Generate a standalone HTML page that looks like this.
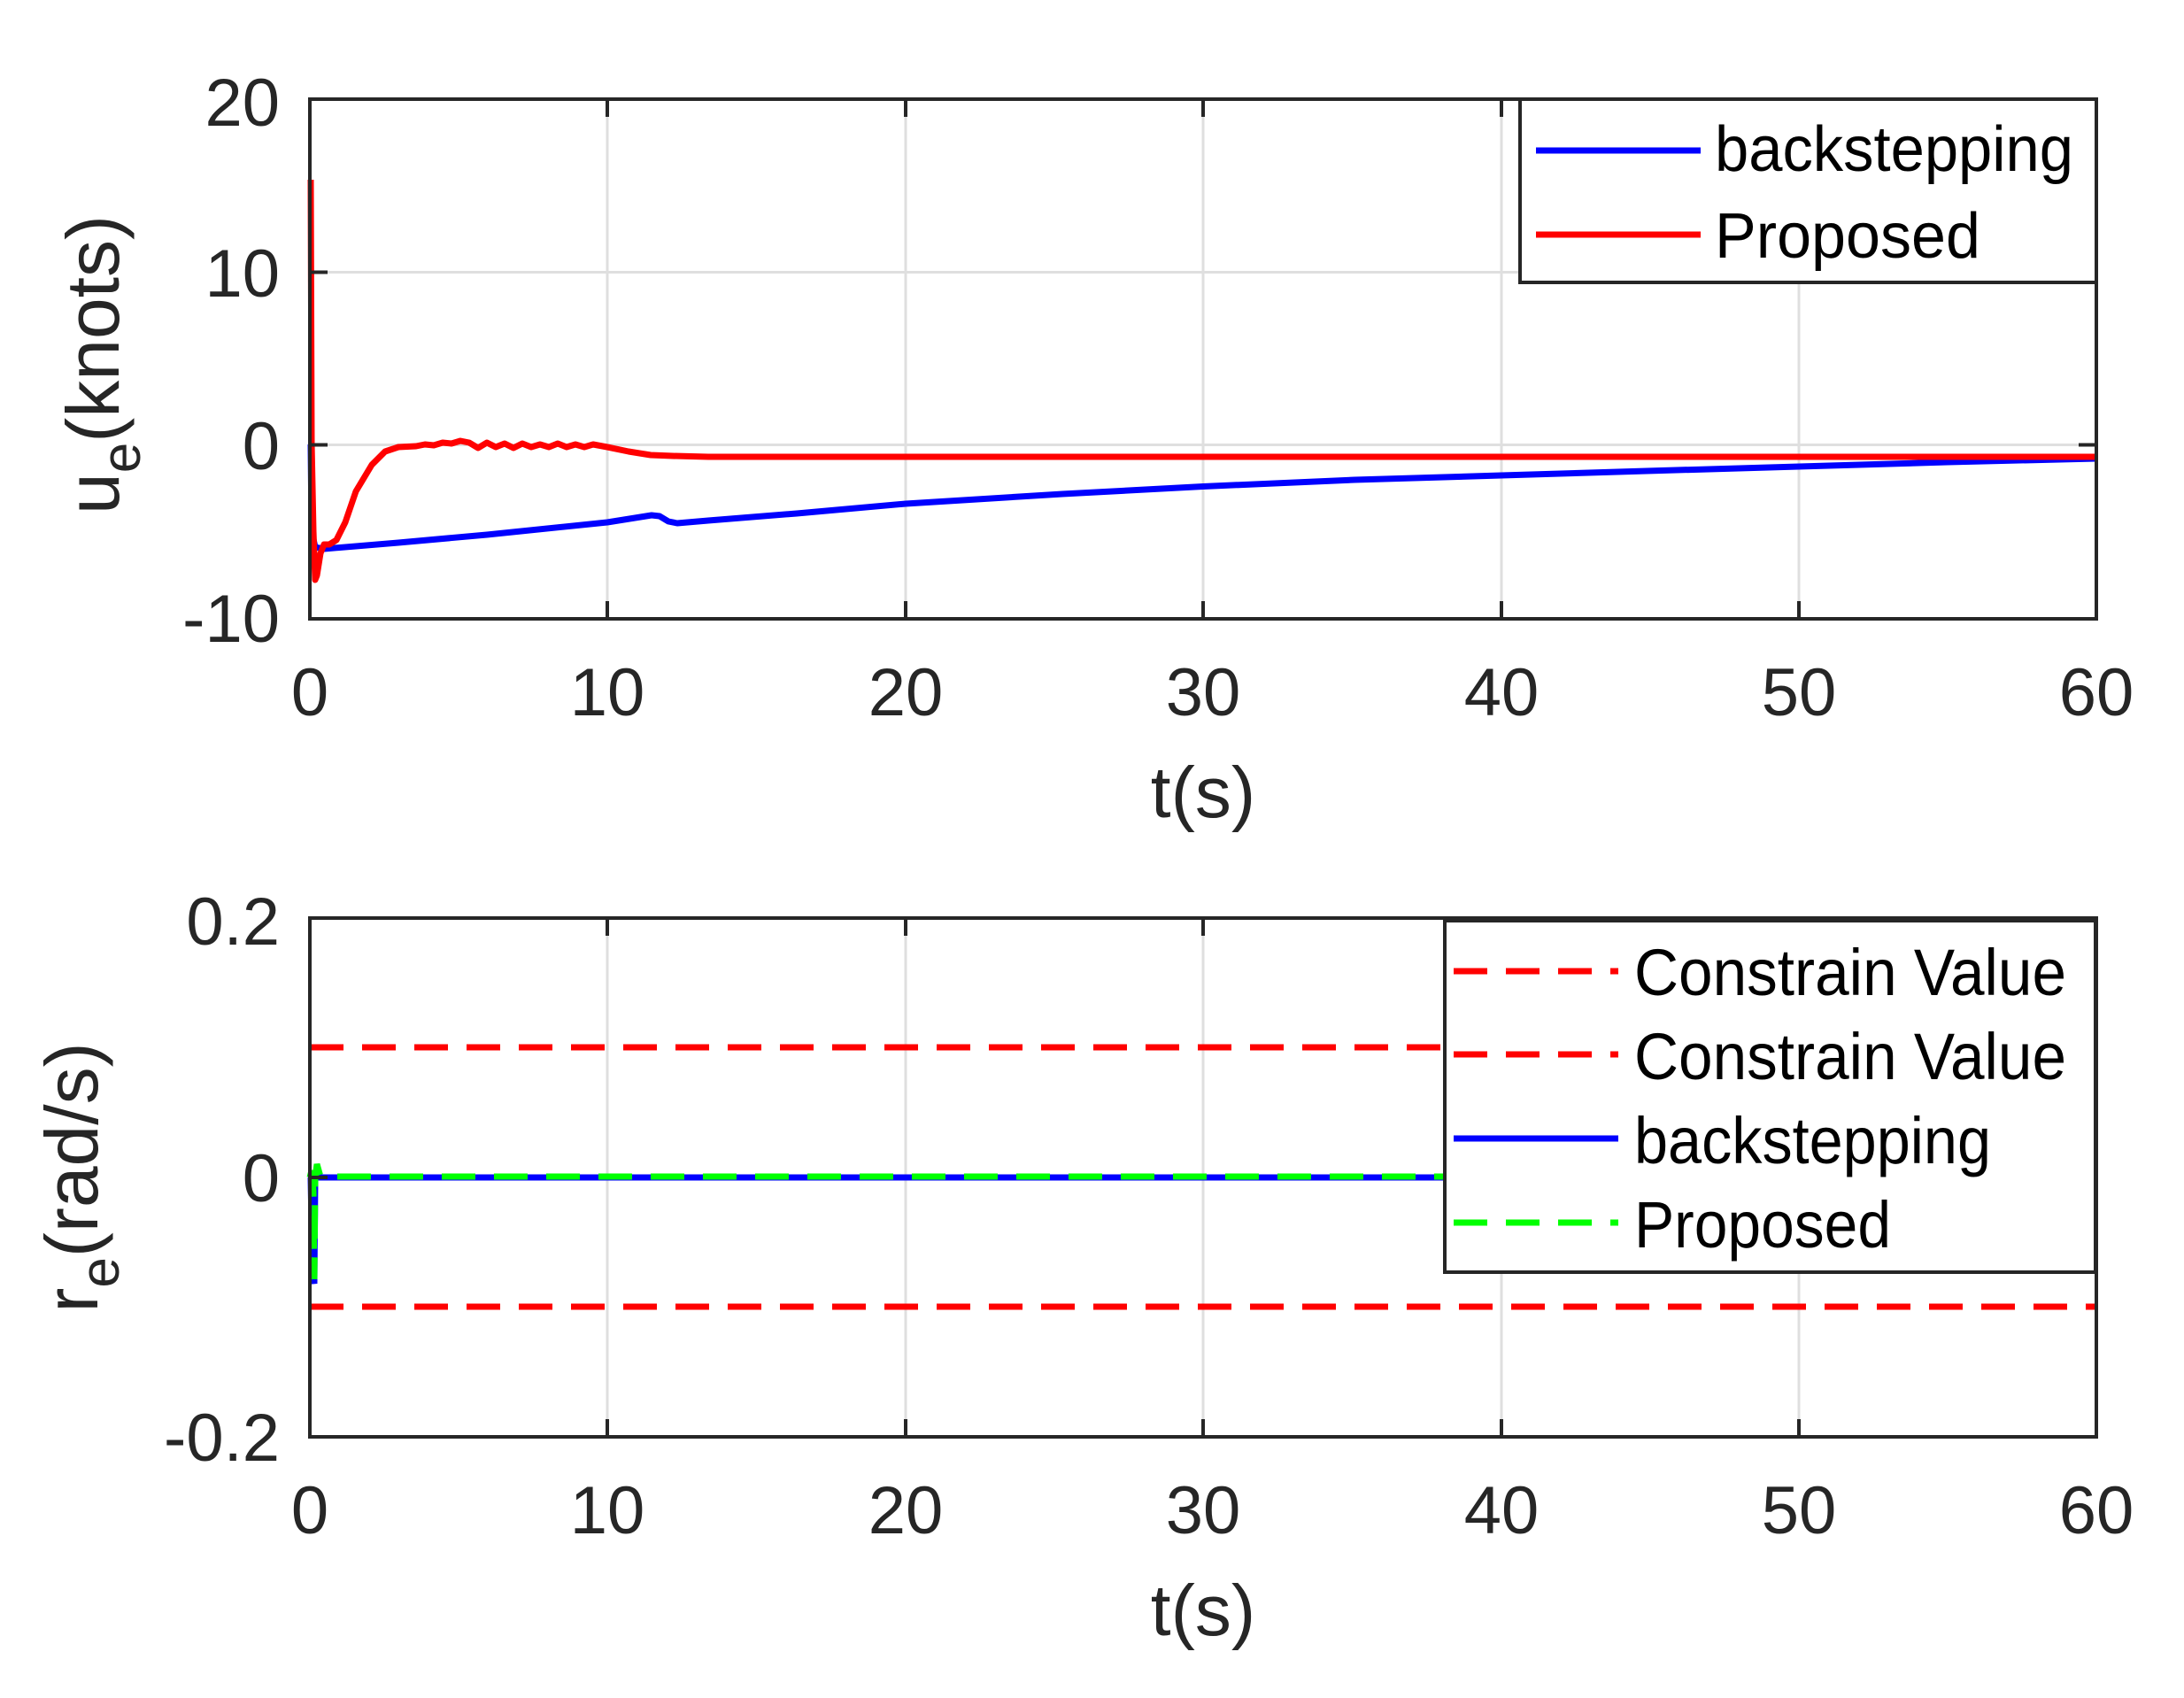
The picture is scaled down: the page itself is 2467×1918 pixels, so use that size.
<!DOCTYPE html>
<html><head><meta charset="utf-8"><style>html,body{margin:0;padding:0;background:#fff}svg{display:block}</style></head>
<body>
<svg width="2467" height="1918" viewBox="0 0 2467 1918" xmlns="http://www.w3.org/2000/svg" font-family="Liberation Sans, Arial, sans-serif">
<rect width="2467" height="1918" fill="#fff"/>
<!-- TOP AXES -->
<g stroke="#dfdfdf" stroke-width="3">
<line x1="686" y1="112" x2="686" y2="699"/><line x1="1023" y1="112" x2="1023" y2="699"/><line x1="1359" y1="112" x2="1359" y2="699"/><line x1="1696" y1="112" x2="1696" y2="699"/><line x1="2032" y1="112" x2="2032" y2="699"/>
<line x1="350" y1="307.5" x2="2368" y2="307.5"/><line x1="350" y1="502.5" x2="2368" y2="502.5"/>
</g>
<g fill="none" stroke-width="7" stroke-linejoin="round">
<polyline stroke="#0000ff" points="351,502 352,600 356,618 366,620 450,613 550,604 686,590 736,582 745,583 755,589 765,591 800,588 900,580 1023,569 1200,558 1359,549.5 1530,542 1696,537 1860,532 2032,527 2200,522 2368,518"/>
<polyline stroke="#ff0000" points="351,203 352,500 354,600 356,655 358,650 362,625 366,615 372,615 380,610 390,590 402,555 420,525 435,510 450,505 470,504 480,502 490,503 500,500 510,501 520,498 530,500 540,506 550,500 560,505 570,501 580,506 590,501 600,505 610,502 620,505 630,501 640,505 650,502 660,505 670,502 686,505 710,510 735,514 760,515 800,516 1023,516 1359,516 1696,516 2032,516 2368,516"/>
</g>
<rect x="350" y="112" width="2018" height="587" fill="none" stroke="#262626" stroke-width="4"/>
<g stroke="#262626" stroke-width="4">
<line x1="686" y1="699" x2="686" y2="679"/><line x1="1023" y1="699" x2="1023" y2="679"/><line x1="1359" y1="699" x2="1359" y2="679"/><line x1="1696" y1="699" x2="1696" y2="679"/><line x1="2032" y1="699" x2="2032" y2="679"/>
<line x1="686" y1="112" x2="686" y2="132"/><line x1="1023" y1="112" x2="1023" y2="132"/><line x1="1359" y1="112" x2="1359" y2="132"/><line x1="1696" y1="112" x2="1696" y2="132"/><line x1="2032" y1="112" x2="2032" y2="132"/>
<line x1="350" y1="307.5" x2="370" y2="307.5"/><line x1="350" y1="502.5" x2="370" y2="502.5"/>
<line x1="2368" y1="307.5" x2="2348" y2="307.5"/><line x1="2368" y1="502.5" x2="2348" y2="502.5"/>
</g>
<g fill="#262626" font-size="76" text-anchor="end">
<text x="316" y="142">20</text><text x="316" y="335">10</text><text x="316" y="530">0</text><text x="316" y="725">-10</text>
</g>
<g fill="#262626" font-size="76" text-anchor="middle">
<text x="350" y="808">0</text><text x="686" y="808">10</text><text x="1023" y="808">20</text><text x="1359" y="808">30</text><text x="1696" y="808">40</text><text x="2032" y="808">50</text><text x="2368" y="808">60</text>
<text x="1359" y="923" font-size="82">t(s)</text>
</g>
<g transform="translate(134,412) rotate(-90)" fill="#262626" font-size="84" text-anchor="middle">
<text x="0" y="0">u<tspan font-size="62" dy="24">e</tspan><tspan dy="-24">(knots)</tspan></text>
</g>
<!-- top legend -->
<rect x="1717" y="112" width="651" height="207" fill="#fff" stroke="#262626" stroke-width="4"/>
<line x1="1735" y1="170" x2="1921" y2="170" stroke="#0000ff" stroke-width="7"/>
<line x1="1735" y1="265" x2="1921" y2="265" stroke="#ff0000" stroke-width="7"/>
<g fill="#000" font-size="72">
<text x="1937" y="193" textLength="405" lengthAdjust="spacingAndGlyphs">backstepping</text>
<text x="1937" y="291" textLength="300" lengthAdjust="spacingAndGlyphs">Proposed</text>
</g>
<!-- BOTTOM AXES -->
<g stroke="#dfdfdf" stroke-width="3">
<line x1="686" y1="1037" x2="686" y2="1623"/><line x1="1023" y1="1037" x2="1023" y2="1623"/><line x1="1359" y1="1037" x2="1359" y2="1623"/><line x1="1696" y1="1037" x2="1696" y2="1623"/><line x1="2032" y1="1037" x2="2032" y2="1623"/>
<line x1="350" y1="1330" x2="2368" y2="1330"/>
</g>
<g fill="none" stroke-width="7">
<line x1="350" y1="1183" x2="2368" y2="1183" stroke="#ff0000" stroke-dasharray="38,21"/>
<line x1="350" y1="1476" x2="2368" y2="1476" stroke="#ff0000" stroke-dasharray="38,21"/>
<polyline stroke="#0000ff" points="351,1330 353,1440 355,1450 356,1330 2368,1330"/>
<polyline stroke="#00ff00" stroke-dasharray="38,21" points="350,1330 352,1322 354,1345 355,1445 356,1330 358,1315 362,1329 2368,1329"/>
</g>
<rect x="350" y="1037" width="2018" height="586" fill="none" stroke="#262626" stroke-width="4"/>
<g stroke="#262626" stroke-width="4">
<line x1="686" y1="1623" x2="686" y2="1603"/><line x1="1023" y1="1623" x2="1023" y2="1603"/><line x1="1359" y1="1623" x2="1359" y2="1603"/><line x1="1696" y1="1623" x2="1696" y2="1603"/><line x1="2032" y1="1623" x2="2032" y2="1603"/>
<line x1="686" y1="1037" x2="686" y2="1057"/><line x1="1023" y1="1037" x2="1023" y2="1057"/><line x1="1359" y1="1037" x2="1359" y2="1057"/><line x1="1696" y1="1037" x2="1696" y2="1057"/><line x1="2032" y1="1037" x2="2032" y2="1057"/>
<line x1="350" y1="1330" x2="370" y2="1330"/><line x1="2368" y1="1330" x2="2348" y2="1330"/>
</g>
<g fill="#262626" font-size="76" text-anchor="end">
<text x="316" y="1067">0.2</text><text x="316" y="1357">0</text><text x="316" y="1650">-0.2</text>
</g>
<g fill="#262626" font-size="76" text-anchor="middle">
<text x="350" y="1732">0</text><text x="686" y="1732">10</text><text x="1023" y="1732">20</text><text x="1359" y="1732">30</text><text x="1696" y="1732">40</text><text x="2032" y="1732">50</text><text x="2368" y="1732">60</text>
<text x="1359" y="1847" font-size="82">t(s)</text>
</g>
<g transform="translate(110,1330) rotate(-90)" fill="#262626" font-size="84" text-anchor="middle">
<text x="0" y="0">r<tspan font-size="62" dy="24">e</tspan><tspan dy="-24">(rad/s)</tspan></text>
</g>
<!-- bottom legend -->
<rect x="1632" y="1040" width="735" height="397" fill="#fff" stroke="#262626" stroke-width="4"/>
<g stroke-width="7" fill="none">
<line x1="1642" y1="1097" x2="1828" y2="1097" stroke="#ff0000" stroke-dasharray="38,21"/>
<line x1="1642" y1="1191" x2="1828" y2="1191" stroke="#ff0000" stroke-dasharray="38,21"/>
<line x1="1642" y1="1286" x2="1828" y2="1286" stroke="#0000ff"/>
<line x1="1642" y1="1381" x2="1828" y2="1381" stroke="#00ff00" stroke-dasharray="38,21"/>
</g>
<g fill="#000" font-size="74">
<text x="1846" y="1124" textLength="488" lengthAdjust="spacingAndGlyphs">Constrain Value</text>
<text x="1846" y="1219" textLength="488" lengthAdjust="spacingAndGlyphs">Constrain Value</text>
<text x="1846" y="1314" textLength="403" lengthAdjust="spacingAndGlyphs">backstepping</text>
<text x="1846" y="1409" textLength="290" lengthAdjust="spacingAndGlyphs">Proposed</text>
</g>
</svg>
</body></html>
